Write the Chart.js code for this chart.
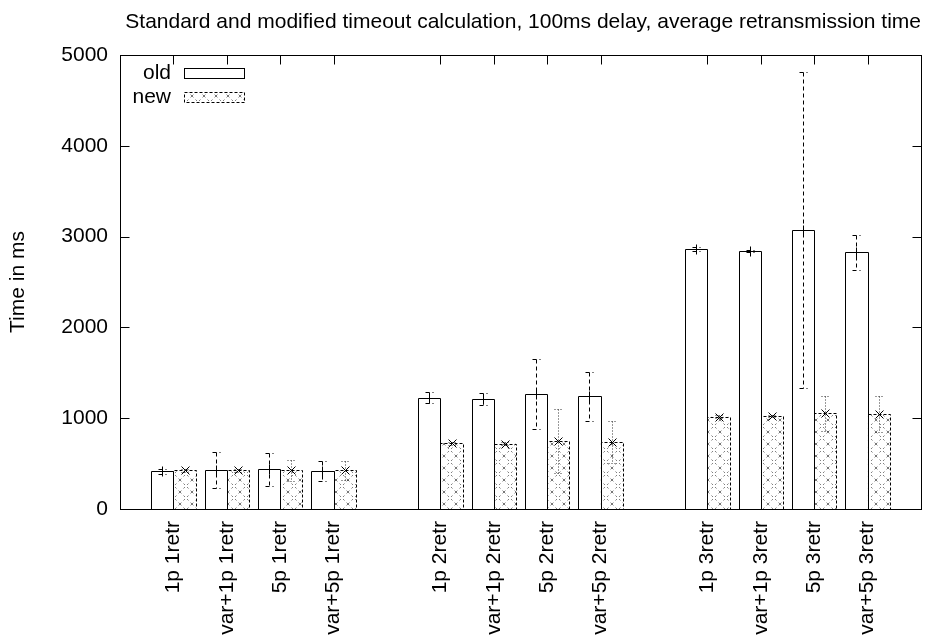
<!DOCTYPE html>
<html>
<head>
<meta charset="utf-8">
<title>Retransmission time</title>
<script src="https://cdn.jsdelivr.net/npm/chart.js@4/dist/chart.umd.min.js"></script>
<style>
  html, body { margin: 0; padding: 0; background: #fff; }
  #c { display: block; }
</style>
</head>
<body>
<canvas id="c" width="927" height="637"></canvas>
<script>
// Test cases, grouped by number of retransmissions
const categories = [
  '1p 1retr', 'var+1p 1retr', '5p 1retr', 'var+5p 1retr',
  '1p 2retr', 'var+1p 2retr', '5p 2retr', 'var+5p 2retr',
  '1p 3retr', 'var+1p 3retr', '5p 3retr', 'var+5p 3retr'
];
const groupSize = 4;

// Average retransmission time (ms) and its error, standard calculation
const oldMean = [415, 430, 437, 422, 1226, 1211, 1266, 1241, 2863, 2841, 3073, 2827];
const oldErr  = [25, 195, 180, 110, 60, 68, 387, 273, 20, 15, 1740, 190];

// Average retransmission time (ms) and its error, modified calculation
const newMean = [425, 425, 428, 428, 723, 719, 749, 738, 1017, 1024, 1054, 1046];
const newErr  = [15, 15, 115, 105, 20, 15, 355, 228, 15, 15, 190, 200];

const yTicks = [0, 1000, 2000, 3000, 4000, 5000];
const seriesNames = ['old', 'new'];

const FONT = { family: '"Liberation Sans", Arial, Helvetica, sans-serif', size: 21 };
const FONT_CSS = '21px "Liberation Sans", Arial, Helvetica, sans-serif';

// Slot layout: an empty slot before, between and after each group
function toSlots(arr, empty) {
  const out = [empty];
  for (let i = 0; i < arr.length; i++) {
    out.push(arr[i]);
    if ((i + 1) % groupSize === 0) out.push(empty);
  }
  return out;
}
const slotLabels = toSlots(categories, '');

// Dotted cross-hatch fill for the modified series
function makeHatch() {
  const s = 12;
  const c = document.createElement('canvas');
  c.width = s; c.height = s;
  const g = c.getContext('2d');
  g.fillStyle = '#fff';
  g.fillRect(0, 0, s, s);
  g.strokeStyle = '#777';
  g.lineWidth = 1;
  g.setLineDash([2, 3]);
  g.beginPath();
  g.moveTo(0, 0); g.lineTo(s, s);
  g.moveTo(s, 0); g.lineTo(0, s);
  g.stroke();
  return g.createPattern(c, 'repeat');
}
const hatch = makeHatch();

const crisp = v => Math.round(v) + 0.5;

// Outlines, error bars, point markers, frame and inward ticks
const gnuplotDecor = {
  id: 'gnuplotDecor',
  afterDatasetsDraw(chart) {
    const { ctx, chartArea: a, scales: { x, y } } = chart;
    ctx.save();
    ctx.lineWidth = 1;
    chart.data.datasets.forEach((ds, di) => {
      const meta = chart.getDatasetMeta(di);
      meta.data.forEach((bar, i) => {
        const m = ds.data[i];
        if (m == null) return;
        const p = bar.getProps(['x', 'y', 'base', 'width'], true);
        const cx = crisp(p.x);
        const x0 = crisp(p.x - p.width / 2), x1 = crisp(p.x + p.width / 2);
        const yTop = crisp(p.y), yBase = crisp(p.base);
        ctx.strokeStyle = '#000';
        ctx.setLineDash(ds.dashedOutline ? [3, 2] : []);
        ctx.beginPath();
        ctx.moveTo(x0, yBase); ctx.lineTo(x0, yTop); ctx.lineTo(x1, yTop); ctx.lineTo(x1, yBase);
        ctx.stroke();

        const e = ds.errors[i];
        const yt = crisp(y.getPixelForValue(m + e));
        const yb = crisp(y.getPixelForValue(m - e));
        const ym = crisp(y.getPixelForValue(m));
        ctx.strokeStyle = ds.errColor;
        ctx.setLineDash(ds.errDash);
        ctx.beginPath();
        ctx.moveTo(cx, yt); ctx.lineTo(cx, yb);
        ctx.moveTo(cx - 4, yt); ctx.lineTo(cx + 4, yt);
        ctx.moveTo(cx - 4, yb); ctx.lineTo(cx + 4, yb);
        ctx.stroke();
        ctx.setLineDash([]);
        ctx.strokeStyle = '#000';
        ctx.beginPath();
        if (ds.marker === 'plus') {
          ctx.moveTo(cx - 5, ym); ctx.lineTo(cx + 5, ym);
          ctx.moveTo(cx, ym - 5); ctx.lineTo(cx, ym + 5);
        } else {
          ctx.moveTo(cx - 4, ym - 4); ctx.lineTo(cx + 4, ym + 4);
          ctx.moveTo(cx + 4, ym - 4); ctx.lineTo(cx - 4, ym + 4);
        }
        ctx.stroke();
      });
    });

    // plot frame
    ctx.setLineDash([]);
    ctx.strokeStyle = '#000';
    const L = crisp(a.left), R = crisp(a.right), T = crisp(a.top), B = crisp(a.bottom);
    ctx.strokeRect(L, T, R - L, B - T);

    // inward tick marks on all four sides
    const tl = 9;
    ctx.beginPath();
    slotLabels.forEach((lab, i) => {
      if (!lab) return;
      const px = crisp(x.getPixelForValue(i));
      ctx.moveTo(px, T); ctx.lineTo(px, T + tl);
      ctx.moveTo(px, B); ctx.lineTo(px, B - tl);
    });
    yTicks.forEach(v => {
      const py = crisp(y.getPixelForValue(v));
      ctx.moveTo(L, py); ctx.lineTo(L + tl, py);
      ctx.moveTo(R, py); ctx.lineTo(R - tl, py);
    });
    ctx.stroke();
    ctx.restore();
  },
  afterDraw(chart) {
    // key in the upper left corner: label, then sample box
    const { ctx, chartArea: a } = chart;
    ctx.save();
    ctx.font = FONT_CSS;
    ctx.textAlign = 'right';
    ctx.textBaseline = 'middle';
    const textRight = a.left + 51;
    const boxLeft = a.left + 64;
    const boxW = 60, boxH = 10;
    chart.data.datasets.forEach((ds, di) => {
      const cy = a.top + 18 + di * 24;
      ctx.fillStyle = '#000';
      ctx.fillText(ds.label, textRight, cy);
      const bx = crisp(boxLeft), by = crisp(cy - boxH / 2);
      ctx.fillStyle = ds.backgroundColor;
      ctx.fillRect(bx, by, boxW, boxH);
      ctx.strokeStyle = '#000';
      ctx.lineWidth = 1;
      ctx.setLineDash(ds.dashedOutline ? [3, 2] : []);
      ctx.strokeRect(bx, by, boxW, boxH);
      ctx.setLineDash([]);
    });
    ctx.restore();
  }
};

new Chart(document.getElementById('c'), {
  type: 'bar',
  data: {
    labels: slotLabels,
    datasets: [
      {
        label: seriesNames[0],
        data: toSlots(oldMean, null),
        errors: toSlots(oldErr, null),
        backgroundColor: '#fff',
        borderWidth: 0,
        marker: 'plus',
        errDash: [4, 3],
        errColor: '#000'
      },
      {
        label: seriesNames[1],
        data: toSlots(newMean, null),
        errors: toSlots(newErr, null),
        backgroundColor: hatch,
        borderWidth: 0,
        dashedOutline: true,
        marker: 'cross',
        errDash: [1, 2],
        errColor: '#333'
      }
    ]
  },
  options: {
    responsive: false,
    animation: false,
    devicePixelRatio: 1,
    categoryPercentage: 0.835,
    barPercentage: 1,
    layout: { padding: { left: 0, right: 6, top: 0, bottom: 0 } },
    plugins: {
      legend: { display: false },
      tooltip: { enabled: false },
      title: {
        display: true,
        text: 'Standard and modified timeout calculation, 100ms delay, average retransmission time',
        align: 'end',
        color: '#000',
        font: { family: FONT.family, size: 21, weight: 'normal' },
        padding: { top: 10, bottom: 19.8 }
      }
    },
    scales: {
      x: {
        type: 'category',
        offset: false,
        grid: { display: false, drawTicks: false },
        border: { display: false },
        ticks: {
          autoSkip: false,
          maxRotation: 90,
          minRotation: 90,
          padding: 12,
          color: '#000',
          font: FONT
        },
        afterFit(s) {
          s.height = 128;
          s.paddingLeft = 0;
          s.paddingRight = 0;
        }
      },
      y: {
        min: 0,
        max: 5000,
        afterBuildTicks(s) { s.ticks = yTicks.map(v => ({ value: v })); },
        grid: { display: false, drawTicks: false },
        border: { display: false },
        ticks: {
          padding: 12,
          color: '#000',
          font: FONT,
          callback: v => String(v)
        },
        title: {
          display: true,
          text: 'Time in ms',
          color: '#000',
          font: FONT,
          padding: { top: 6, bottom: 0 }
        },
        afterFit(s) { s.width = 120; }
      }
    }
  },
  plugins: [gnuplotDecor]
});
</script>
</body>
</html>
